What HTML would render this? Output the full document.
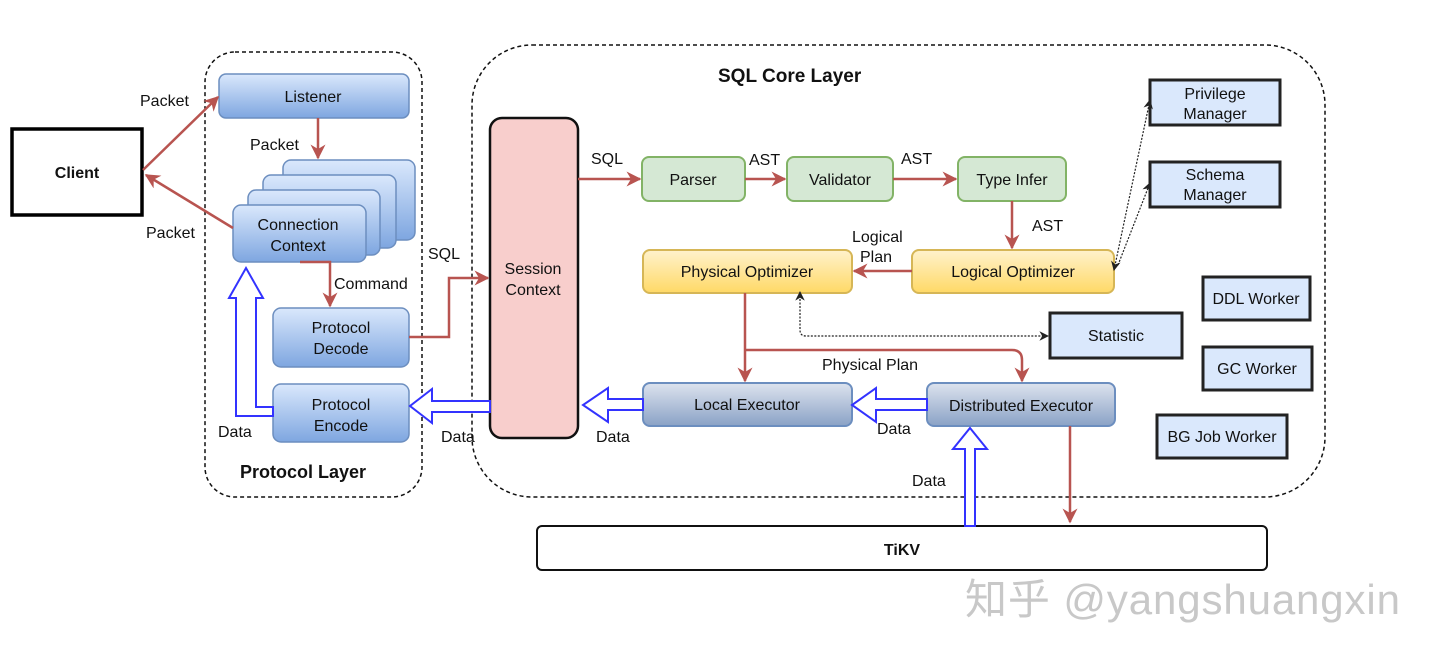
<!DOCTYPE html>
<html><head><meta charset="utf-8"><style>
html,body{margin:0;padding:0;background:#fff;width:1440px;height:664px;overflow:hidden}
text{font-family:"Liberation Sans",sans-serif;font-size:16px;fill:#111}
</style></head><body>
<svg width="1440" height="664" viewBox="0 0 1440 664" xmlns="http://www.w3.org/2000/svg">
<defs>
<linearGradient id="bl" x1="0" y1="0" x2="0" y2="1"><stop offset="0" stop-color="#dae8fc"/><stop offset="1" stop-color="#7ea6e0"/></linearGradient>
<linearGradient id="ye" x1="0" y1="0" x2="0" y2="1"><stop offset="0" stop-color="#fff2cc"/><stop offset="1" stop-color="#ffd966"/></linearGradient>
<linearGradient id="gr" x1="0" y1="0" x2="0" y2="1"><stop offset="0" stop-color="#dde3ee"/><stop offset="1" stop-color="#8aa2c6"/></linearGradient>
<marker id="ra" viewBox="0 0 10 10" refX="9" refY="5" markerWidth="6" markerHeight="6" orient="auto"><path d="M0,0 L10,5 L0,10 L3,5 z" fill="#b85450"/></marker>
<marker id="ka" viewBox="0 0 10 10" refX="9" refY="5" markerWidth="8" markerHeight="8" orient="auto-start-reverse"><path d="M0,0 L10,5 L0,10 L3,5 z" fill="#222"/></marker>
</defs>
<rect x="205" y="52" width="217" height="445" rx="30" fill="none" stroke="#111" stroke-width="1.5" stroke-dasharray="4,3"/>
<rect x="472" y="45" width="853" height="452" rx="60" fill="none" stroke="#111" stroke-width="1.5" stroke-dasharray="4,3"/>
<text x="240" y="478" font-weight="bold" style="font-size:18px">Protocol Layer</text>
<text x="718" y="82" font-weight="bold" style="font-size:19px">SQL Core Layer</text>
<rect x="12" y="129" width="130" height="86" fill="#fff" stroke="#000" stroke-width="3.5"/>
<text x="77" y="178" text-anchor="middle" font-weight="bold">Client</text>
<g stroke="#6c8ebf" stroke-width="1.5">
<rect x="219" y="74" width="190" height="44" rx="7" fill="url(#bl)"/>
<rect x="283" y="160" width="132" height="80" rx="8" fill="url(#bl)"/>
<rect x="263" y="175" width="133" height="73" rx="8" fill="url(#bl)"/>
<rect x="248" y="190" width="132" height="65" rx="8" fill="url(#bl)"/>
<rect x="233" y="205" width="133" height="57" rx="8" fill="url(#bl)"/>
<rect x="273" y="308" width="136" height="59" rx="8" fill="url(#bl)"/>
<rect x="273" y="384" width="136" height="58" rx="8" fill="url(#bl)"/>
</g>
<text x="313" y="102" text-anchor="middle">Listener</text>
<text x="298" y="230" text-anchor="middle">Connection</text>
<text x="298" y="251" text-anchor="middle">Context</text>
<text x="341" y="333" text-anchor="middle">Protocol</text>
<text x="341" y="354" text-anchor="middle">Decode</text>
<text x="341" y="410" text-anchor="middle">Protocol</text>
<text x="341" y="431" text-anchor="middle">Encode</text>
<rect x="490" y="118" width="88" height="320" rx="12" fill="#f8cecc" stroke="#111" stroke-width="2.5"/>
<text x="533" y="274" text-anchor="middle">Session</text>
<text x="533" y="295" text-anchor="middle">Context</text>
<g stroke="#82b366" stroke-width="2" fill="#d5e8d4">
<rect x="642" y="157" width="103" height="44" rx="7"/>
<rect x="787" y="157" width="106" height="44" rx="7"/>
<rect x="958" y="157" width="108" height="44" rx="7"/>
</g>
<text x="693" y="185" text-anchor="middle">Parser</text>
<text x="840" y="185" text-anchor="middle">Validator</text>
<text x="1012" y="185" text-anchor="middle">Type Infer</text>
<g stroke="#d6b656" stroke-width="2" fill="url(#ye)">
<rect x="643" y="250" width="209" height="43" rx="7"/>
<rect x="912" y="250" width="202" height="43" rx="7"/>
</g>
<text x="747" y="277" text-anchor="middle">Physical Optimizer</text>
<text x="1013" y="277" text-anchor="middle">Logical Optimizer</text>
<g stroke="#6c8ebf" stroke-width="2" fill="url(#gr)">
<rect x="643" y="383" width="209" height="43" rx="7"/>
<rect x="927" y="383" width="188" height="43" rx="7"/>
</g>
<text x="747" y="410" text-anchor="middle">Local Executor</text>
<text x="1021" y="411" text-anchor="middle">Distributed Executor</text>
<g fill="#dae8fc" stroke="#222" stroke-width="3">
<rect x="1150" y="80" width="130" height="45"/>
<rect x="1150" y="162" width="130" height="45"/>
<rect x="1050" y="313" width="132" height="45"/>
<rect x="1203" y="277" width="107" height="43"/>
<rect x="1203" y="347" width="109" height="43"/>
<rect x="1157" y="415" width="130" height="43"/>
</g>
<text x="1215" y="99" text-anchor="middle">Privilege</text>
<text x="1215" y="119" text-anchor="middle">Manager</text>
<text x="1215" y="180" text-anchor="middle">Schema</text>
<text x="1215" y="200" text-anchor="middle">Manager</text>
<text x="1116" y="341" text-anchor="middle">Statistic</text>
<text x="1256" y="304" text-anchor="middle">DDL Worker</text>
<text x="1257" y="374" text-anchor="middle">GC Worker</text>
<text x="1222" y="442" text-anchor="middle">BG Job Worker</text>
<rect x="537" y="526" width="730" height="44" rx="5" fill="#fff" stroke="#111" stroke-width="2"/>
<text x="902" y="555" text-anchor="middle" font-weight="bold">TiKV</text>
<g stroke="#b85450" stroke-width="2.5" fill="none" marker-end="url(#ra)">
<path d="M143,170 L218,97"/>
<path d="M233,228 L146,175"/>
<path d="M318,118 L318,158"/>
<path d="M300,262 L330,262 L330,306"/>
<path d="M409,337 L449,337 L449,278 L488,278"/>
<path d="M578,179 L640,179"/>
<path d="M745,179 L785,179"/>
<path d="M893,179 L956,179"/>
<path d="M1012,201 L1012,248"/>
<path d="M912,271 L854,271"/>
<path d="M745,293 L745,381"/>
<path d="M745,350 L1012,350 Q1022,350 1022,360 L1022,381"/>
<path d="M1070,426 L1070,522"/>
</g>
<g stroke="#222" stroke-width="1.2" fill="none" stroke-dasharray="2,1.5">
<path d="M1114,270 L1150,100" marker-start="url(#ka)" marker-end="url(#ka)"/>
<path d="M1118,265 L1150,183" marker-end="url(#ka)"/>
<path d="M800,292 L800,330 Q800,336 806,336 L1048,336" marker-start="url(#ka)" marker-end="url(#ka)"/>
</g>
<g stroke="#3333ff" stroke-width="2" fill="#fff">
<path d="M490,401 L490,412 L432,412 L432,423 L410,406 L432,389 L432,401 Z"/>
<path d="M643,399 L643,410 L608,410 L608,422 L583,405 L608,388 L608,399 Z"/>
<path d="M927,399 L927,410 L876,410 L876,422 L852,405 L876,388 L876,399 Z"/>
<path d="M965,526 L975,526 L975,449 L987,449 L970,428 L953,449 L965,449 Z"/>
<path d="M273,407 L273,416 L236,416 L236,298 L229,298 L246,268 L263,298 L256,298 L256,407 Z"/>
</g>
<text x="140" y="106">Packet</text>
<text x="250" y="150">Packet</text>
<text x="146" y="238">Packet</text>
<text x="334" y="289">Command</text>
<text x="428" y="259">SQL</text>
<text x="218" y="437">Data</text>
<text x="441" y="442">Data</text>
<text x="591" y="164">SQL</text>
<text x="749" y="165">AST</text>
<text x="901" y="164">AST</text>
<text x="1032" y="231">AST</text>
<text x="852" y="242">Logical</text>
<text x="860" y="262">Plan</text>
<text x="822" y="370">Physical Plan</text>
<text x="596" y="442">Data</text>
<text x="877" y="434">Data</text>
<text x="912" y="486">Data</text>
<text x="965" y="614" textLength="435" style="font-size:42px;fill:#c8c8c8;font-family:'Liberation Sans','Noto Sans CJK SC',sans-serif">知乎 @yangshuangxin</text>
</svg>
</body></html>
